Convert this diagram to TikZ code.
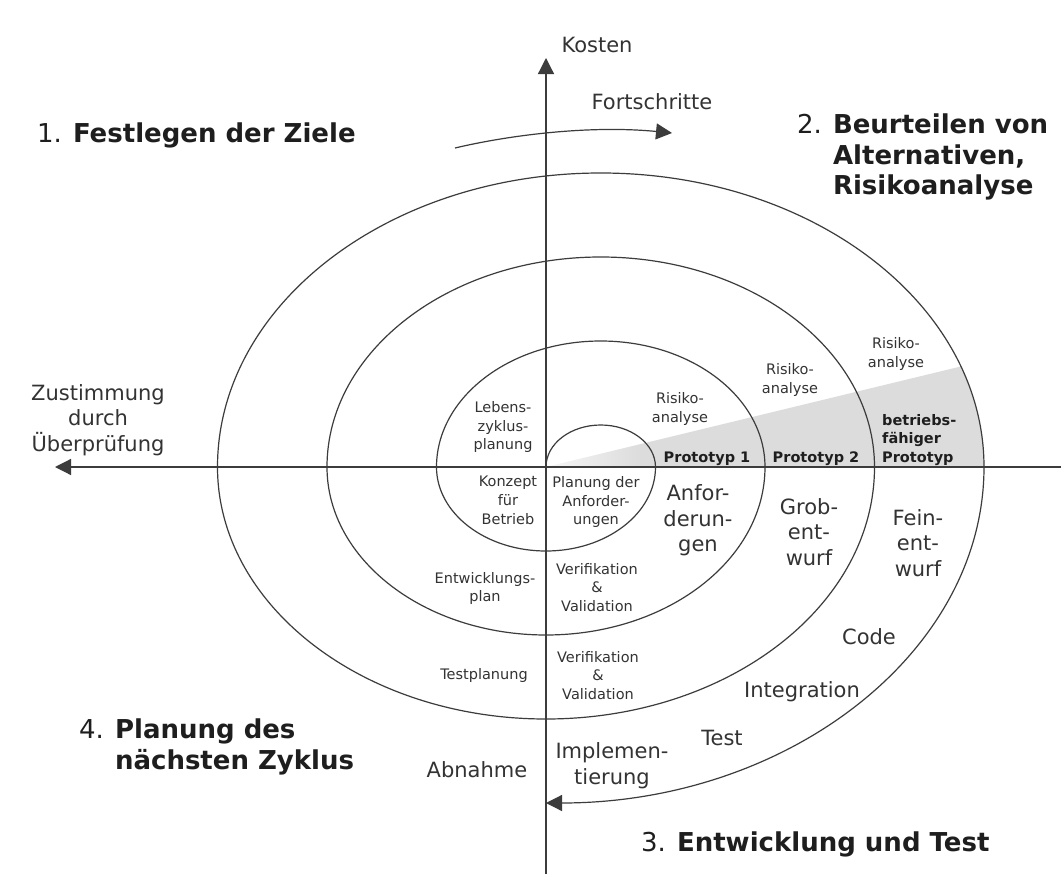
\documentclass[tikz,border=0pt]{standalone}
\usepackage{fontspec}
\setmainfont{DejaVu Sans}
\usetikzlibrary{arrows.meta}
\definecolor{linegray}{HTML}{3C3C3C}
\definecolor{txtgray}{HTML}{333333}
\definecolor{titlegray}{HTML}{1E1E1E}
\definecolor{shadegray}{HTML}{DCDCDC}
\begin{document}
\begin{tikzpicture}[x=1pt,y=-1pt,
  small/.style={font=\fontsize{14.5}{18.8}\selectfont, text=txtgray, inner sep=0pt, align=center},
  bsmall/.style={font=\fontsize{14.5}{18.8}\selectfont\bfseries, text=titlegray, inner sep=0pt, align=center},
  large/.style={font=\fontsize{21}{25.5}\selectfont, text=txtgray, inner sep=0pt, align=center},
  title/.style={font=\fontsize{26}{30.5}\selectfont, text=titlegray, inner sep=0pt, align=left},
  ln/.style={draw=linegray, line width=1.2pt},
  tip/.style={-{Triangle[length=16pt,width=16pt]}}]
\useasboundingbox (0,0) rectangle (1061,886);
\fill[white] (0,0) rectangle (1061,886);
% shaded wedge
\begin{scope}
  \clip (546,467) -- (960.89,366.45) arc[start angle=340,end angle=360,x radius=383.25,y radius=294] -- cycle;
  \fill[shadegray] (640,300) rectangle (1000,470);
  \shade[left color=shadegray!25!white,right color=shadegray] (546,300) rectangle (641,470);
\end{scope}
% axes
\coordinate (ytop) at (546,58);
\coordinate (ybot) at (546,874);
\coordinate (xleft) at (55,467);
\coordinate (xright) at (1061,467);
\draw[ln,tip] (ybot) -- (ytop);
\draw[ln,tip] (xright) -- (xleft);
% progress arrow
\coordinate (fs) at (455,148);
\coordinate (fe) at (672,133);
\draw[ln,tip] (fs) .. controls (510,135) and (590,125) .. (fe);
% spiral
\draw[ln,tip] (546,467)
  arc[start angle=180,end angle=360,x radius=54.75,y radius=42]
  arc[start angle=0,end angle=180,x radius=109.5,y radius=84]
  arc[start angle=180,end angle=360,x radius=164.25,y radius=126]
  arc[start angle=0,end angle=180,x radius=219,y radius=168]
  arc[start angle=180,end angle=360,x radius=273.75,y radius=210]
  arc[start angle=0,end angle=180,x radius=328.5,y radius=252]
  arc[start angle=180,end angle=360,x radius=383.25,y radius=294]
  arc[start angle=0,end angle=90,x radius=438,y radius=336];
% small labels
\node[small] (lebens) at (503,427) {Lebens-\\zyklus-\\planung};
\node[small] (konzept) at (508,500.3) {Konzept\\für\\Betrieb};
\node[small] (planung) at (596,502) {Planung der\\Anforder-\\ungen};
\node[small] (vv1) at (597,587.5) {Verifikation\\\&\\Validation};
\node[small] (entw) at (485,588.4) {Entwicklungs-\\plan};
\node[small,anchor=base] (testpl) at (484,679.3) {Testplanung};
\node[small] (vv2) at (598,675.5) {Verifikation\\\&\\Validation};
\node[small] (risk1) at (680,409) {Risiko-\\analyse};
\node[small] (risk2) at (790,380) {Risiko-\\analyse};
\node[small] (risk3) at (896,353.7) {Risiko-\\analyse};
\node[bsmall,anchor=base] (p1) at (707,462.3) {Prototyp 1};
\node[bsmall,anchor=base] (p2) at (816,462.3) {Prototyp 2};
\node[bsmall,align=left,anchor=west] (p3) at (882,440) {betriebs-\\fähiger\\Prototyp};
% large labels
\node[large] (anf) at (698,520.5) {Anfor-\\derun-\\gen};
\node[large] (grob) at (809,532) {Grob-\\ent-\\wurf};
\node[large] (fein) at (918,543) {Fein-\\ent-\\wurf};
\node[large,anchor=base] (code) at (869,644) {Code};
\node[large,anchor=base] (integ) at (802,697) {Integration};
\node[large,anchor=base] (test) at (722,745) {Test};
\node[large] (impl) at (612,765.5) {Implemen-\\tierung};
\node[large,anchor=base] (abn) at (477,777) {Abnahme};
\node[large,anchor=base] (kosten) at (597,52.7) {Kosten};
\node[large,anchor=base] (fort) at (652,109) {Fortschritte};
\node[large] (zust) at (98,420) {Zustimmung\\durch\\Überprüfung};
% titles
\node[title,anchor=base west] (t1) at (37,142.7) {1. \textbf{Festlegen der Ziele}};
\node[title,anchor=north west] (t2) at (797,114) {2. \textbf{Beurteilen von}\\\phantom{2. }\textbf{Alternativen,}\\\phantom{2. }\textbf{Risikoanalyse}};
\node[title,anchor=base west] (t3) at (641,851.7) {3. \textbf{Entwicklung und Test}};
\node[title,anchor=north west] (t4) at (79,719) {4. \textbf{Planung des}\\\phantom{4. }\textbf{nächsten Zyklus}};
\end{tikzpicture}
\end{document}
